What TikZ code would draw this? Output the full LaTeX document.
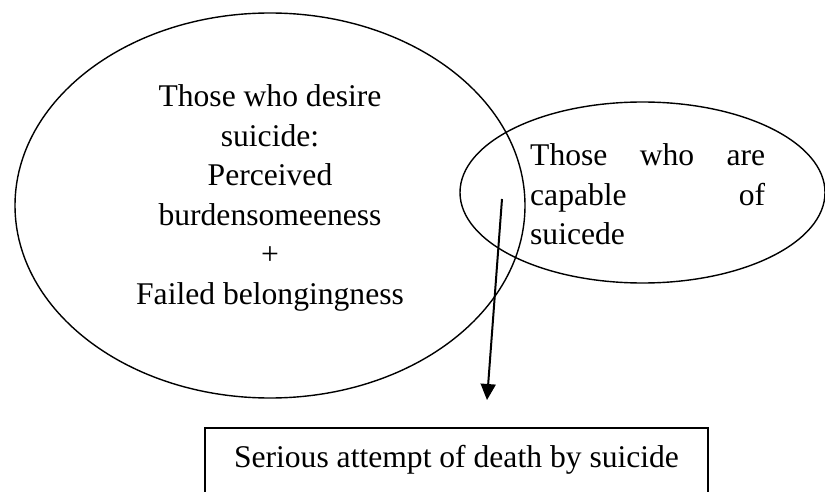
\documentclass[tikz,border=0pt]{standalone}
\usepackage{fontspec}
\setmainfont{Liberation Serif}
\usetikzlibrary{arrows.meta,shapes.geometric,positioning}

\begin{document}
\begin{tikzpicture}[
    x=1pt, y=-1pt,
    oval/.style={ellipse, draw, line width=1.4pt, inner sep=0pt},
    txt/.style={inner sep=0pt, font=\fontsize{31.6}{39.5}\selectfont},
    box/.style={rectangle, draw, line width=1.6pt, font=\fontsize{31.6}{39.5}\selectfont},
    arrow/.style={-{Triangle[length=16pt,width=15pt]}, line width=2pt}
]
    \useasboundingbox (0,0) rectangle (825,492);
    \clip (0,0) rectangle (825,492);

    \node[oval, minimum width=510pt, minimum height=385pt] (desire) at (270,205.5) {};
    \node[oval, minimum width=365pt, minimum height=181pt] (capable) at (642.5,192.5) {};

    \node[txt, align=center, anchor=north] (desiretext) at (270,84.4)
        {Those who desire\\suicide:\\Perceived\\burdensomeeness\\+\\Failed belongingness};
    \node[txt, anchor=north west, text width=235pt] (capabletext) at (530,143.4)
        {Those\hfill who\hfill are\\capable\hfill of\\suicede};

    \node[box, anchor=north, minimum width=503pt, text height=22pt, text depth=40pt, inner ysep=18pt] (attempt) at (456.5,427)
        {Serious attempt of death by suicide};

    \coordinate (start) at (502,199);
    \coordinate (tip) at (487,400);
    \draw[arrow] (start) -- (tip);
\end{tikzpicture}
\end{document}
